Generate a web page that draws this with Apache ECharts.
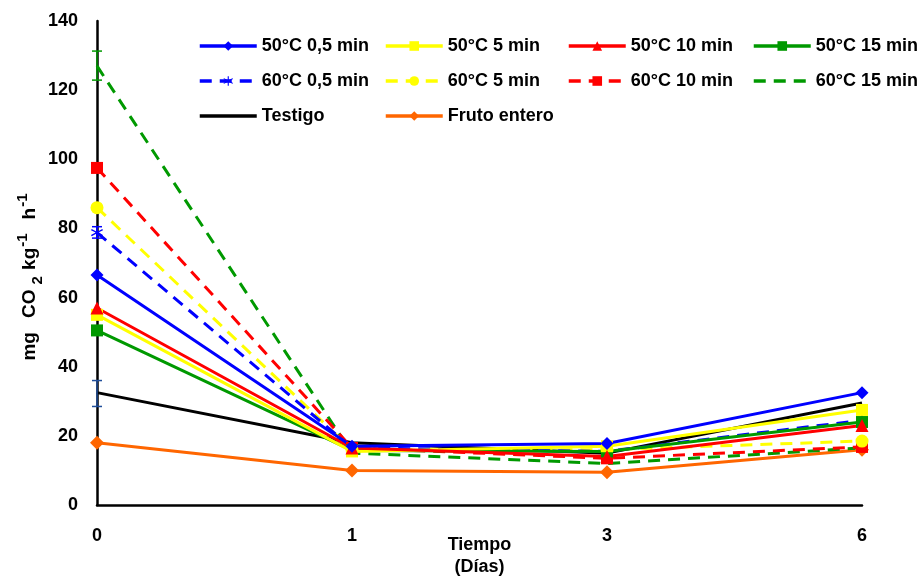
<!DOCTYPE html>
<html>
<head>
<meta charset="utf-8">
<script src="https://cdn.jsdelivr.net/npm/echarts@6/dist/echarts.min.js"></script>
<style>
html,body{margin:0;padding:0;background:#fff;}
#chart{width:923px;height:581px;}
</style>
</head>
<body>
<div id="chart"></div>
<script>
// Respiration rate (mg CO2 kg-1 h-1) over storage days
var days = ['0', '1', '3', '6'];

var s50_05 = [66.5, 17.0, 17.8, 32.5];
var s50_5 = [55.0, 15.5, 17.0, 27.5];
var s50_10 = [57.0, 16.5, 14.0, 23.0];
var s50_15 = [50.5, 15.8, 15.5, 24.0];
var s60_05 = [78.8, 16.5, 15.5, 24.5];
var s60_5 = [86.0, 16.0, 16.0, 18.5];
var s60_10 = [97.5, 16.5, 13.5, 16.8];
var s60_15 = [127.0, 15.0, 12.0, 16.5];
var testigo = [32.5, 18.0, 15.0, 29.5];
var frutoEntero = [18.0, 10.0, 9.5, 16.0];

// error bars: [day index, low, high]
var errBlueDash = [[0, 77.2, 80.5]];
var errGreenDash = [[0, 122.9, 131.3]];
var errTestigo = [[0, 28.5, 36.0]];

var yTicks = [0, 20, 40, 60, 80, 100, 120, 140];

var FONT = 'Liberation Sans, Arial, sans-serif';
var BLUE = '#0000FF', YELLOW = '#FFFF00', RED = '#FF0000', GREEN = '#009900',
    BLACK = '#000000', ORANGE = '#FF6600';
var DASH = [12, 8];
var asterisk = 'path://M9,0h2v7.6l6.6,-3.8l1,1.7l-6.6,3.8l6.6,3.8l-1,1.7l-6.6,-3.8v7.6h-2v-7.6l-6.6,3.8l-1,-1.7l6.6,-3.8l-6.6,-3.8l1,-1.7l6.6,3.8z';

function lineSeries(name, data, color, dashed, symbol, size) {
  return {
    name: name, type: 'line', data: data,
    symbol: symbol || 'none', symbolSize: size || 12,
    showSymbol: !!symbol,
    lineStyle: { color: color, width: 3, type: dashed ? DASH : 'solid' },
    itemStyle: { color: color },
    emphasis: { disabled: true },
    animation: false
  };
}

function errSeries(data, color) {
  return {
    type: 'custom', data: data, z: 5, animation: false, silent: true,
    renderItem: function (params, api) {
      var x = api.value(0);
      var lo = api.coord([x, api.value(1)]);
      var hi = api.coord([x, api.value(2)]);
      var w = 5;
      var st = { stroke: color, lineWidth: 1.5 };
      return {
        type: 'group', children: [
          { type: 'line', shape: { x1: lo[0], y1: lo[1], x2: hi[0], y2: hi[1] }, style: st },
          { type: 'line', shape: { x1: lo[0] - w, y1: lo[1], x2: lo[0] + w, y2: lo[1] }, style: st },
          { type: 'line', shape: { x1: hi[0] - w, y1: hi[1], x2: hi[0] + w, y2: hi[1] }, style: st }
        ]
      };
    }
  };
}

var series = [
  lineSeries('Fruto entero', frutoEntero, ORANGE, false, 'diamond', 14),
  lineSeries('Testigo', testigo, BLACK, false, null),
  lineSeries('60°C 15 min', s60_15, GREEN, true, null),
  lineSeries('60°C 10 min', s60_10, RED, true, 'rect', 12),
  lineSeries('60°C 5 min', s60_5, YELLOW, true, 'circle', 13),
  lineSeries('60°C 0,5 min', s60_05, BLUE, true, asterisk, 12),
  lineSeries('50°C 15 min', s50_15, GREEN, false, 'rect', 12),
  lineSeries('50°C 5 min', s50_5, YELLOW, false, 'rect', 12),
  lineSeries('50°C 10 min', s50_10, RED, false, 'triangle', 13),
  lineSeries('50°C 0,5 min', s50_05, BLUE, false, 'diamond', 13),
  errSeries(errBlueDash, BLUE),
  errSeries(errGreenDash, GREEN),
  errSeries(errTestigo, '#1F4E9A')
];

// legend layout: one component per entry
var legendCols = [198, 384, 567, 752];
var legendRows = [37, 72, 107];
var legendNames = [
  ['50°C 0,5 min', '50°C 5 min', '50°C 10 min', '50°C 15 min'],
  ['60°C 0,5 min', '60°C 5 min', '60°C 10 min', '60°C 15 min'],
  ['Testigo', 'Fruto entero']
];
var noMarker = { 'Testigo': true, '60°C 15 min': true };
var legends = [];
legendNames.forEach(function (row, r) {
  row.forEach(function (nm, c) {
    var lg = {
      data: [nm], left: legendCols[c], top: legendRows[r],
      itemWidth: 57, itemHeight: 12, padding: 0,
      selectedMode: false,
      lineStyle: { width: 3.5 },
      textStyle: { fontFamily: FONT, fontWeight: 'bold', fontSize: 18, color: '#000' }
    };
    if (noMarker[nm]) lg.itemStyle = { opacity: 0 };
    legends.push(lg);
  });
});

var nameBase = { fontFamily: FONT, fontWeight: 'bold', color: '#000', lineHeight: 30 };
var chart = echarts.init(document.getElementById('chart'), null, { renderer: 'canvas' });
chart.setOption({
  backgroundColor: '#fff',
  animation: false,
  grid: { left: 97, right: 61, top: 21, bottom: 76, outerBoundsMode: 'none', containLabel: false },
  legend: legends,
  xAxis: {
    type: 'category', data: days, boundaryGap: false,
    name: 'Tiempo\n(Días)', nameLocation: 'middle', nameGap: 29, nameMoveOverlap: false,
    nameTextStyle: { fontFamily: FONT, fontWeight: 'bold', fontSize: 18, color: '#000', lineHeight: 22 },
    axisLine: { lineStyle: { color: '#000', width: 2.5 } },
    axisTick: { show: false },
    axisLabel: { fontFamily: FONT, fontWeight: 'bold', fontSize: 18, color: '#000', margin: 22 },
    splitLine: { show: false }
  },
  yAxis: {
    type: 'value', min: yTicks[0], max: yTicks[yTicks.length - 1], interval: 20,
    name: '{a|mg}{s|}{a|CO}{b|2}{a| kg}{c|-1}{s|}{a|h}{c|-1}{e|}',
    nameLocation: 'middle', nameGap: 52, nameRotate: 90, nameMoveOverlap: false,
    nameTextStyle: {
      rich: {
        a: Object.assign({ fontSize: 19, verticalAlign: 'middle' }, nameBase),
        s: Object.assign({ fontSize: 19, width: 14 }, nameBase),
        e: Object.assign({ fontSize: 19, width: 28 }, nameBase),
        b: Object.assign({ fontSize: 15, verticalAlign: 'bottom', padding: [0, 1, 0, 5] }, nameBase),
        c: Object.assign({ fontSize: 15, verticalAlign: 'top', padding: [0, 0, 0, 1] }, nameBase)
      }
    },
    axisLine: { show: true, lineStyle: { color: '#000', width: 2.5 } },
    axisTick: { show: false },
    axisLabel: { fontFamily: FONT, fontWeight: 'bold', fontSize: 18, color: '#000', margin: 19 },
    splitLine: { show: false }
  },
  series: series
});
</script>
</body>
</html>
